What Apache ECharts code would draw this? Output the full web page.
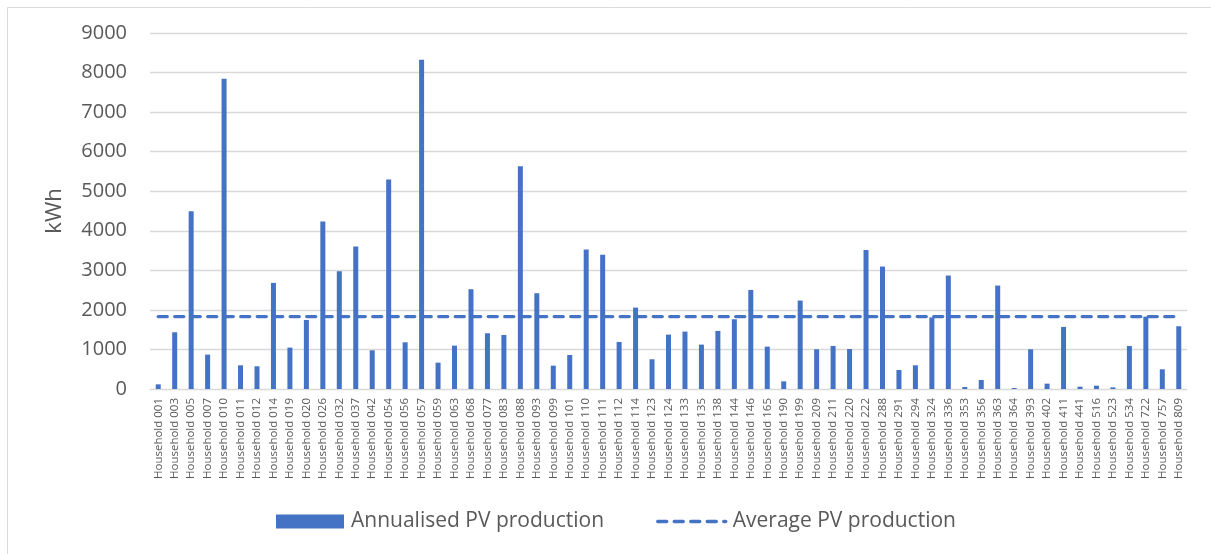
<!DOCTYPE html>
<html>
<head>
<meta charset="utf-8">
<script src="https://cdn.jsdelivr.net/npm/echarts@6/dist/echarts.min.js"></script>
<style>
  html, body { margin: 0; padding: 0; background: #ffffff; }
  #chart { width: 1211px; height: 554px; }
</style>
</head>
<body>
<div id="chart"></div>
<script>
// Household identifiers along the category axis
const households = [
  '001','003','005','007','010','011','012','014','019','020',
  '026','032','037','042','054','056','057','059','063','068',
  '077','083','088','093','099','101','110','111','112','114',
  '123','124','133','135','138','144','146','165','190','199',
  '209','211','220','222','288','291','294','324','336','353',
  '356','363','364','393','402','411','441','516','523','534',
  '722','757','809'
];
const categories = households.map(h => 'Household ' + h);

// Annualised PV production per household (kWh)
const annualisedPV = [
  118, 1434, 4496, 869, 7844, 599, 574, 2682, 1046, 1746,
  4234, 2977, 3602, 978, 5297, 1181, 8325, 666, 1096, 2522,
  1409, 1366, 5634, 2421, 590, 860, 3526, 3391, 1189, 2058,
  751, 1375, 1451, 1122, 1468, 1763, 2505, 1071, 194, 2235,
  1004, 1088, 1010, 3517, 3095, 481, 599, 1810, 2868, 51,
  228, 2615, 25, 1004, 135, 1569, 59, 84, 42, 1088,
  1830, 498, 1586
];

// Average PV production across all households (kWh)
const averagePV = 1830;
const averageLine = categories.map(() => averagePV);

// Value axis ticks
const yMin = 0, yMax = 9000, yStep = 1000;

const textColor = '#595959';
const gridColor = '#d9d9d9';
const blue = '#4472c4';
const font = 'Open Sans';
const avgDash = { color: blue, width: 3.4, type: [9, 7.5], cap: 'round' };

const chart = echarts.init(document.getElementById('chart'), null, { renderer: 'canvas' });
chart.setOption({
  backgroundColor: '#ffffff',
  animation: false,
  textStyle: { fontFamily: font },
  graphic: [{
    type: 'rect',
    left: 5, top: 5,
    shape: { width: 1230, height: 570 },
    style: { fill: 'none', stroke: gridColor, lineWidth: 1 },
    silent: true
  }],
  grid: { left: 150, right: 24, top: 33, bottom: 165 },
  legend: {
    left: 271,
    top: 506,
    itemGap: 52,
    itemWidth: 68,
    itemHeight: 14,
    textStyle: { color: textColor, fontSize: 21, fontFamily: font, padding: [0, 0, 0, 2] },
    data: [
      { name: 'Annualised PV production', icon: 'rect' },
      { name: 'Average PV production', itemStyle: { opacity: 0 }, lineStyle: avgDash }
    ]
  },
  xAxis: {
    type: 'category',
    data: categories,
    axisLine: { show: true, lineStyle: { color: gridColor, width: 1 } },
    axisTick: { show: false },
    axisLabel: {
      interval: 0,
      rotate: 90,
      margin: 9,
      color: textColor,
      fontSize: 11.5,
      fontFamily: font
    }
  },
  yAxis: {
    type: 'value',
    min: yMin,
    max: yMax,
    interval: yStep,
    name: 'kWh',
    nameLocation: 'middle',
    nameGap: 84,
    nameRotate: 90,
    nameTextStyle: { color: textColor, fontSize: 22, fontFamily: font },
    axisLine: { show: false },
    axisTick: { show: false },
    axisLabel: {
      color: textColor, fontSize: 20, fontFamily: font, margin: 23,
      formatter: v => String(v)
    },
    splitLine: { show: true, lineStyle: { color: gridColor, width: 1.3 } }
  },
  series: [
    {
      name: 'Annualised PV production',
      type: 'bar',
      data: annualisedPV,
      barWidth: 5,
      itemStyle: { color: blue }
    },
    {
      name: 'Average PV production',
      type: 'line',
      data: averageLine,
      symbol: 'none',
      z: 3,
      itemStyle: { color: blue },
      lineStyle: avgDash
    }
  ]
});
</script>
</body>
</html>
